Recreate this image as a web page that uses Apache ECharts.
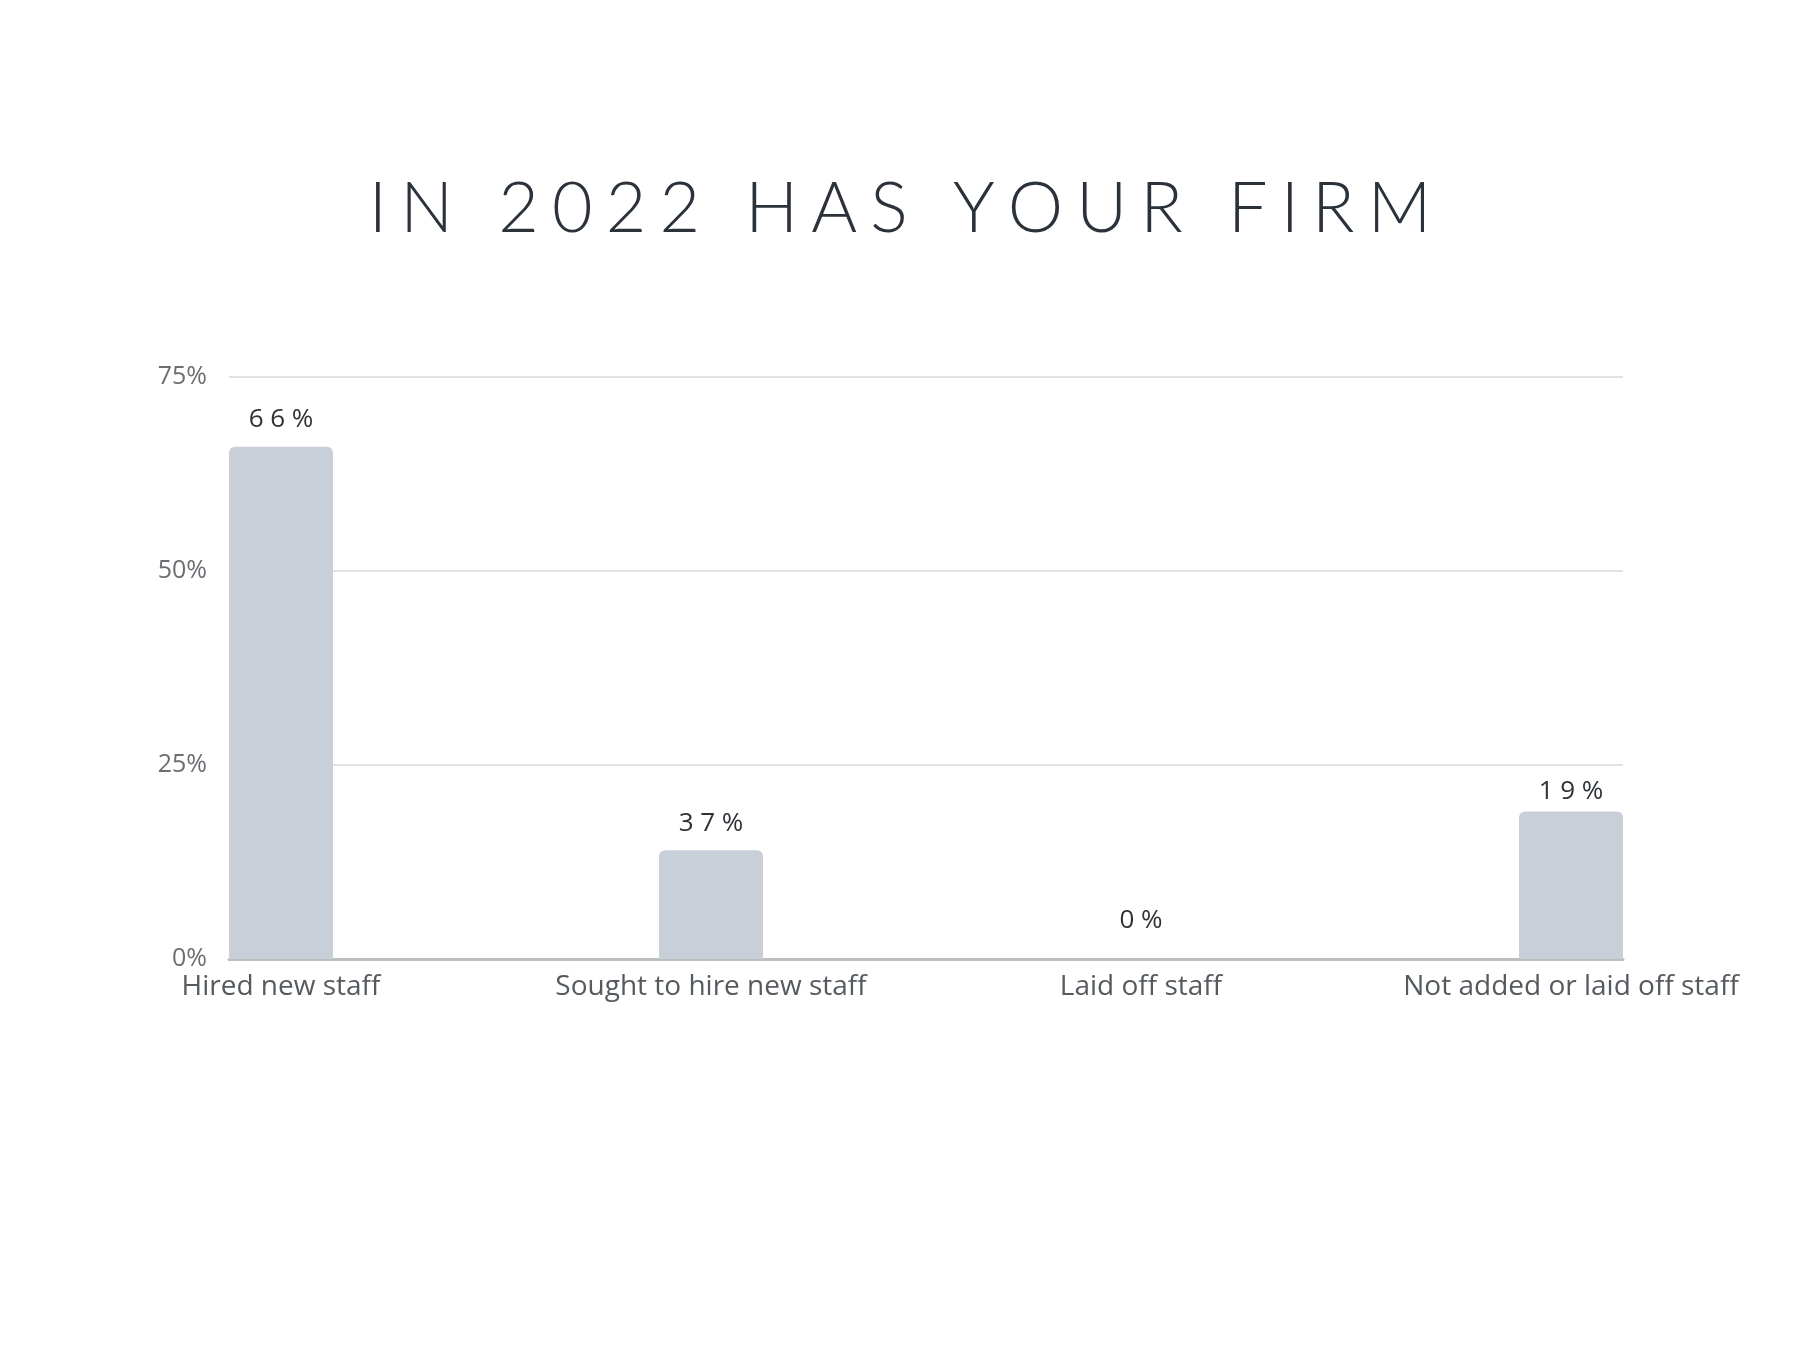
<!DOCTYPE html>
<html>
<head>
<meta charset="utf-8">
<script src="https://cdn.jsdelivr.net/npm/echarts@6/dist/echarts.min.js"></script>
<style>
  html, body { margin: 0; padding: 0; background: #fff; }
  #chart { width: 1800px; height: 1350px; }
</style>
</head>
<body>
<div id="chart"></div>
<script>
// chart data
const titleText = "IN 2022 HAS YOUR FIRM";
const categories = ["Hired new staff", "Sought to hire new staff", "Laid off staff", "Not added or laid off staff"];
// bar heights as drawn in the picture
const barValues = [66, 14, 0, 19];
// value labels as printed above the bars
const barLabels = ["66%", "37%", "0%", "19%"];
const yTicks = [0, 25, 50, 75];

const myChart = echarts.init(document.getElementById("chart"));

// spread letters out, the source uses wide tracking
const spread = (s, sep) => s.split("").join(sep);

// label gap above each bar (px), the source isn't uniform
const labelGap = [14, 14, 25, 7];

const option = {
  backgroundColor: "#fff",
  textStyle: { fontFamily: "Open Sans" },
  title: {
    text: spread(titleText, "\u2009\u200A"),
    left: "center",
    top: 169,
    textStyle: {
      fontFamily: "Lato",
      fontWeight: 300,
      fontSize: 70,
      color: "#2b3239",
    },
  },
  grid: [
    // background grid: gridlines, y labels, axis line
    { left: 229, right: 177, top: 377, bottom: 391 },
    // bars sit on the ticks of this one
    { left: 281, right: 229, top: 377, bottom: 391 },
  ],
  xAxis: [
    {
      gridIndex: 0,
      type: "category",
      data: categories,
      axisLine: { show: true, lineStyle: { color: "#bdbdbd", width: 3 } },
      axisTick: { show: false },
      axisLabel: { show: false },
    },
    {
      gridIndex: 1,
      type: "category",
      boundaryGap: false,
      data: categories,
      axisLine: { show: false },
      axisTick: { show: false },
      axisLabel: {
        interval: 0,
        margin: 14,
        fontFamily: "Open Sans",
        fontSize: 28,
        color: "#555a5f",
      },
    },
  ],
  yAxis: [
    {
      gridIndex: 0,
      type: "value",
      min: yTicks[0],
      max: yTicks[yTicks.length - 1],
      interval: 25,
      axisLine: { show: false },
      axisTick: { show: false },
      axisLabel: {
        margin: 22,
        fontFamily: "Open Sans",
        fontSize: 25,
        color: "#6b6f73",
        formatter: "{value}%",
      },
      splitLine: { lineStyle: { color: "#e2e2e2", width: 2 } },
    },
    {
      gridIndex: 1,
      type: "value",
      min: yTicks[0],
      max: yTicks[yTicks.length - 1],
      interval: 25,
      show: false,
    },
  ],
  series: [
    {
      type: "bar",
      xAxisIndex: 1,
      yAxisIndex: 1,
      barWidth: 104,
      data: barValues.map((v, i) => ({
        value: v,
        label: { distance: labelGap[i] },
      })),
      itemStyle: {
        color: "#c8cfd9",
        borderRadius: [6, 6, 0, 0],
      },
      label: {
        show: true,
        position: "top",
        fontFamily: "Open Sans",
        fontSize: 26,
        color: "#2f3337",
        formatter: (p) => spread(barLabels[p.dataIndex], " "),
      },
      z: 3,
    },
  ],
};

myChart.setOption(option);
</script>
</body>
</html>
